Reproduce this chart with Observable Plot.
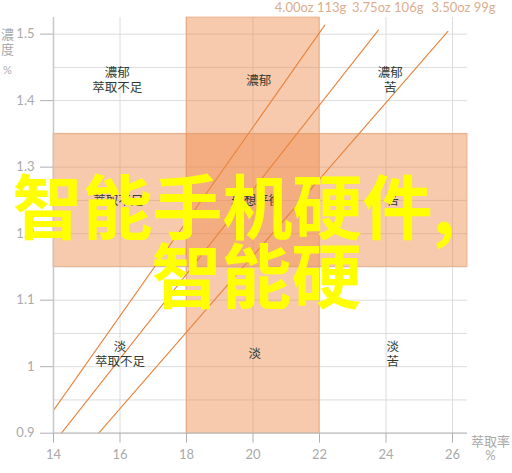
<!DOCTYPE html>
<html><head><meta charset="utf-8">
<script src="https://cdn.jsdelivr.net/npm/d3@7"></script>
<script src="https://cdn.jsdelivr.net/npm/@observablehq/plot@0.6"></script>
<style>html,body{margin:0;padding:0;background:#fff;}</style>
</head><body><div id="chart"></div>
<script>
const xTicks = [14, 16, 18, 20, 22, 24, 26];
const yTicks = [0.9, 1, 1.1, 1.2, 1.3, 1.4, 1.5];
const yGrid = [0.9, 0.95, 1, 1.05, 1.1, 1.15, 1.2, 1.25, 1.3, 1.35, 1.4, 1.45, 1.5];
const bandX = [18, 22];
const bandY = [1.15, 1.35];
const ratioLabels = ["4.00oz 113g", "3.75oz 106g", "3.50oz 99g"];
const ratioLabelX = [21.73, 24.05, 26.33];
const lineX0 = [14.01, 14.24, 15.36];
const lineY0 = [0.935, 0.9, 0.9];
const lineX1 = [22.16, 23.77, 25.86];
const lineY1 = [1.5135, 1.506, 1.504];
const regionText = ["濃郁\n萃取不足", "濃郁", "濃郁\n苦", "萃取不足", "理想平衡", "苦", "淡\n萃取不足", "淡", "淡\n苦"];
const regionX = [15.92, 20.17, 24.13, 15.95, 20.1, 24.2, 16.0, 20.05, 24.2];
const regionY = [1.432, 1.431, 1.431, 1.25, 1.25, 1.25, 1.02, 1.02, 1.02];
const overlayText = ["智能手机硬件,", "智能硬"];

const lineData = ratioLabels.flatMap((k, i) => [
  {k, x: lineX0[i], y: lineY0[i]},
  {k, x: lineX1[i], y: lineY1[i]}
]);
const regions = regionText.map((t, i) => ({t, x: regionX[i], y: regionY[i]}));
const tops = ratioLabels.map((t, i) => ({t, x: ratioLabelX[i]}));

const font = "Lato, 'Noto Sans CJK TC', 'Noto Sans', sans-serif";
const cjkBold = "'Noto Sans CJK SC', sans-serif";

const chart = Plot.plot({
  width: 512,
  height: 473,
  marginLeft: 53,
  marginTop: 17,
  marginRight: 45,
  marginBottom: 40.3,
  x: {domain: [14, 26.45]},
  y: {domain: [0.9, 1.525]},
  style: {fontFamily: font, fontSize: "13px", background: "white", overflow: "visible"},
  marks: [
    Plot.ruleX(xTicks, {stroke: "#dcdcdc", strokeWidth: 1}),
    Plot.ruleY(yGrid, {stroke: "#dcdcdc", strokeWidth: 1}),
    Plot.rect([bandX], {x1: d => d[0], x2: d => d[1], fill: "#ee8a4a", fillOpacity: 0.45, stroke: "#e39a6a", strokeOpacity: 0.6}),
    Plot.rect([bandY], {y1: d => d[0], y2: d => d[1], fill: "#ee8a4a", fillOpacity: 0.45, stroke: "#e39a6a", strokeOpacity: 0.6}),
    Plot.line(lineData, {x: "x", y: "y", z: "k", stroke: "#e8823a", strokeWidth: 1.1}),
    Plot.ruleX([14], {stroke: "#c8c8c8", strokeWidth: 1.5}),
    Plot.ruleY([0.9], {stroke: "#c0c0c0", strokeWidth: 1.2}),
    Plot.axisX({ticks: xTicks, tickSize: 10, tickPadding: 7, stroke: "#b0b0b0", fill: "#aaa", fontSize: 13, tickFormat: d => `${d}`, label: null}),
    Plot.axisY({ticks: yTicks, tickSize: 13, tickPadding: 6, stroke: "#b0b0b0", fill: "#aaa", fontSize: 13, tickFormat: d => `${d}`, label: null}),
    Plot.text(tops, {x: "x", y: () => 1.525, text: "t", dy: -10, fill: "#dbae8d", fontSize: 13}),
    Plot.text(regions, {x: "x", y: "y", text: "t", fill: "#2f3b33", fontSize: 12.5, lineHeight: 1.2}),
    Plot.text(["濃\n度"], {frameAnchor: "top-left", lineAnchor: "middle", textAnchor: "middle", dx: -46, dy: 24, fill: "#aaa", fontSize: 13, lineHeight: 1.2}),
    Plot.text(["%"], {frameAnchor: "top-left", lineAnchor: "middle", textAnchor: "middle", dx: -46, dy: 53, fill: "#aaa", fontSize: 11}),
    Plot.text(["萃取率\n%"], {frameAnchor: "bottom-right", lineAnchor: "middle", textAnchor: "middle", dx: 23, dy: 15, fill: "#aaa", fontSize: 13, lineHeight: 1.15}),
    Plot.text([overlayText[0]], {frameAnchor: "top-left", lineAnchor: "middle", textAnchor: "start", dx: -41, dy: 194, fill: "#ffff00", fontSize: 70, fontWeight: "bold", fontFamily: cjkBold}),
    Plot.text([overlayText[1]], {frameAnchor: "top-left", lineAnchor: "middle", textAnchor: "start", dx: 98, dy: 263, fill: "#ffff00", fontSize: 70, fontWeight: "bold", fontFamily: cjkBold})
  ]
});
document.getElementById("chart").append(chart);
</script>
</body></html>
